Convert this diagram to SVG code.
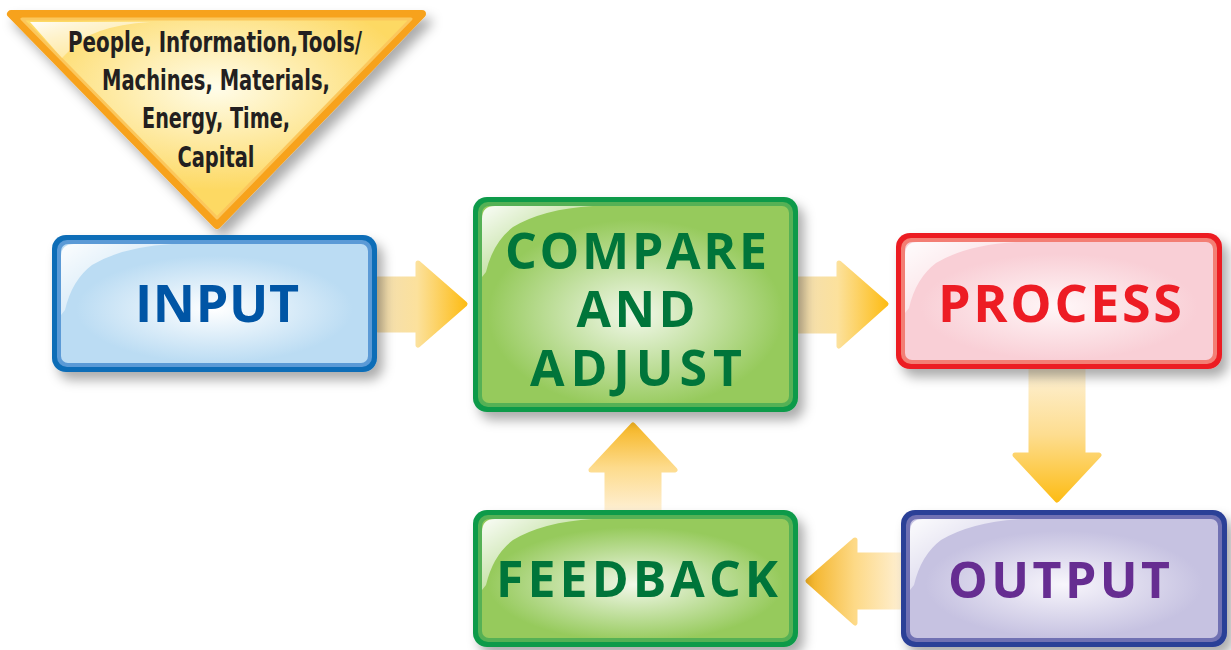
<svg xmlns="http://www.w3.org/2000/svg" width="1231" height="650" viewBox="0 0 1231 650">
<style>
.lbl{font-family:"Open Sans","Noto Sans","DejaVu Sans",sans-serif;font-weight:700;text-anchor:middle}
.tri{font-family:"Liberation Sans Narrow","DejaVu Sans Condensed","Liberation Sans",sans-serif;font-weight:700;font-size:28px;fill:#231F20;text-anchor:middle}
</style>
<defs>
<filter id="sh" x="-10%" y="-10%" width="130%" height="140%">
<feDropShadow dx="6" dy="8" stdDeviation="6" flood-color="#000" flood-opacity="0.33"/>
</filter>
<radialGradient id="gBlue" cx="0.5" cy="0.55" r="0.6"><stop offset="0" stop-color="#FFFFFF"/><stop offset="0.75" stop-color="#BBDCF3"/></radialGradient>
<radialGradient id="gGreen" cx="0.5" cy="0.55" r="0.6"><stop offset="0" stop-color="#F2F8EA"/><stop offset="0.8" stop-color="#96CA5C"/></radialGradient>
<radialGradient id="gRed" cx="0.5" cy="0.55" r="0.6"><stop offset="0" stop-color="#FFF7F8"/><stop offset="0.75" stop-color="#F9CFD6"/></radialGradient>
<radialGradient id="gPurple" cx="0.5" cy="0.55" r="0.6"><stop offset="0" stop-color="#F8F6FC"/><stop offset="0.75" stop-color="#C6C2E1"/></radialGradient>
<radialGradient id="gTri" cx="0.5" cy="0.35" r="0.6"><stop offset="0" stop-color="#FFFDEA"/><stop offset="0.8" stop-color="#FDD964"/></radialGradient>
<linearGradient id="gHi" x1="0" y1="0" x2="1" y2="1"><stop offset="0" stop-color="#FFFFFF" stop-opacity="0.95"/><stop offset="1" stop-color="#FFFFFF" stop-opacity="0"/></linearGradient>
<linearGradient id="aRight" x1="0" y1="0" x2="1" y2="0"><stop offset="0" stop-color="#F2DEB2"/><stop offset="0.45" stop-color="#FCE19C"/><stop offset="1" stop-color="#FDBD18"/></linearGradient>
<linearGradient id="aDown" x1="0" y1="0" x2="0" y2="1"><stop offset="0" stop-color="#FEF1D6"/><stop offset="0.5" stop-color="#FDDD90"/><stop offset="1" stop-color="#FDBD18"/></linearGradient>
<linearGradient id="aUp" x1="0" y1="1" x2="0" y2="0"><stop offset="0" stop-color="#FEEFD2"/><stop offset="0.5" stop-color="#FDDB8C"/><stop offset="1" stop-color="#F6B624"/></linearGradient>
<linearGradient id="aLeft" x1="1" y1="0" x2="0" y2="0"><stop offset="0" stop-color="#FEEFD2"/><stop offset="0.5" stop-color="#FDD986"/><stop offset="1" stop-color="#F3B224"/></linearGradient>
<path id="hi" d="M9,22 Q9,9 22,9 L120,9 Q70,12 40,30 Q20,45 13,75 L9,80 Z" fill="url(#gHi)"/>
</defs>

<g id="connectors" stroke-linejoin="round" stroke-width="5">
<path d="M378,279 H418 V263 L465,304 L418,345 V330 H378 Z" fill="url(#aRight)" stroke="url(#aRight)"/>
<path d="M798,279 H839 V263 L886,304 L839,346 V331 H798 Z" fill="url(#aRight)" stroke="url(#aRight)"/>
<path d="M1031,369 V455 H1015 L1057,500 L1099,455 H1083 V369 Z" fill="url(#aDown)" stroke="url(#aDown)"/>
<path d="M607,510 V470 H591 L633,425 L675,470 H659 V510 Z" fill="url(#aUp)" stroke="url(#aUp)"/>
<path d="M901,555 H855 V540 L808,581 L855,623 V607 H901 Z" fill="url(#aLeft)" stroke="url(#aLeft)"/>
</g>

<g id="resources">
<path d="M11,14 L422,14 L217,225 Z" fill="url(#gTri)" stroke="#F7A21C" stroke-width="8" stroke-linejoin="round" filter="url(#sh)"/>
<path d="M22,19 L411,19 L217,218 Z" fill="none" stroke="#FBC75C" stroke-width="3" stroke-linejoin="round"/>
<path d="M30,22 L150,22 Q90,26 70,50 L62,58 Z" fill="url(#gHi)"/>
<text class="tri" x="215" y="52" textLength="294" lengthAdjust="spacingAndGlyphs">People, Information,Tools/</text>
<text class="tri" x="216" y="90" textLength="228" lengthAdjust="spacingAndGlyphs">Machines, Materials,</text>
<text class="tri" x="216" y="128" textLength="148" lengthAdjust="spacingAndGlyphs">Energy, Time,</text>
<text class="tri" x="216" y="167" textLength="77" lengthAdjust="spacingAndGlyphs">Capital</text>
</g>

<g id="input" transform="translate(52,235)">
<rect width="325" height="137" rx="14" fill="#0B6DB7" filter="url(#sh)"/>
<rect x="5" y="5" width="315" height="127" rx="10" fill="#5B9AD6"/>
<rect x="9" y="9" width="307" height="119" rx="7" fill="url(#gBlue)"/>
<use href="#hi"/>
<text class="lbl" x="165" y="87" font-size="52" fill="#0055A5" textLength="164" lengthAdjust="spacing">INPUT</text>
</g>

<g id="compare" transform="translate(473,197)">
<rect width="325" height="215" rx="14" fill="#0A9A4A" filter="url(#sh)"/>
<rect x="5" y="5" width="315" height="205" rx="10" fill="#55B155"/>
<rect x="9" y="9" width="307" height="197" rx="7" fill="url(#gGreen)"/>
<use href="#hi"/>
<text class="lbl" x="163" y="72" font-size="50" fill="#00753A" textLength="262" lengthAdjust="spacing">COMPARE</text>
<text class="lbl" x="163" y="130" font-size="50" fill="#00753A" textLength="119" lengthAdjust="spacing">AND</text>
<text class="lbl" x="163" y="189" font-size="50" fill="#00753A" textLength="212" lengthAdjust="spacing">ADJUST</text>
</g>

<g id="process" transform="translate(896,233)">
<rect width="326" height="136" rx="14" fill="#EC1C24" filter="url(#sh)"/>
<rect x="5" y="5" width="316" height="126" rx="10" fill="#F37E74"/>
<rect x="9" y="9" width="308" height="118" rx="7" fill="url(#gRed)"/>
<use href="#hi"/>
<text class="lbl" x="164" y="89" font-size="52" fill="#ED1C24" textLength="244" lengthAdjust="spacing">PROCESS</text>
</g>

<g id="output" transform="translate(901,510)">
<rect width="326" height="137" rx="14" fill="#2B3F97" filter="url(#sh)"/>
<rect x="5" y="5" width="316" height="127" rx="10" fill="#7071B3"/>
<rect x="9" y="9" width="308" height="119" rx="7" fill="url(#gPurple)"/>
<use href="#hi"/>
<text class="lbl" x="158" y="88" font-size="50" fill="#662D91" textLength="222" lengthAdjust="spacing">OUTPUT</text>
</g>

<g id="feedback" transform="translate(473,510)">
<rect width="325" height="137" rx="14" fill="#0A9A4A" filter="url(#sh)"/>
<rect x="5" y="5" width="315" height="127" rx="10" fill="#55B155"/>
<rect x="9" y="9" width="307" height="119" rx="7" fill="url(#gGreen)"/>
<use href="#hi"/>
<text class="lbl" x="164" y="87" font-size="50" fill="#00753A" textLength="282" lengthAdjust="spacing">FEEDBACK</text>
</g>
</svg>
